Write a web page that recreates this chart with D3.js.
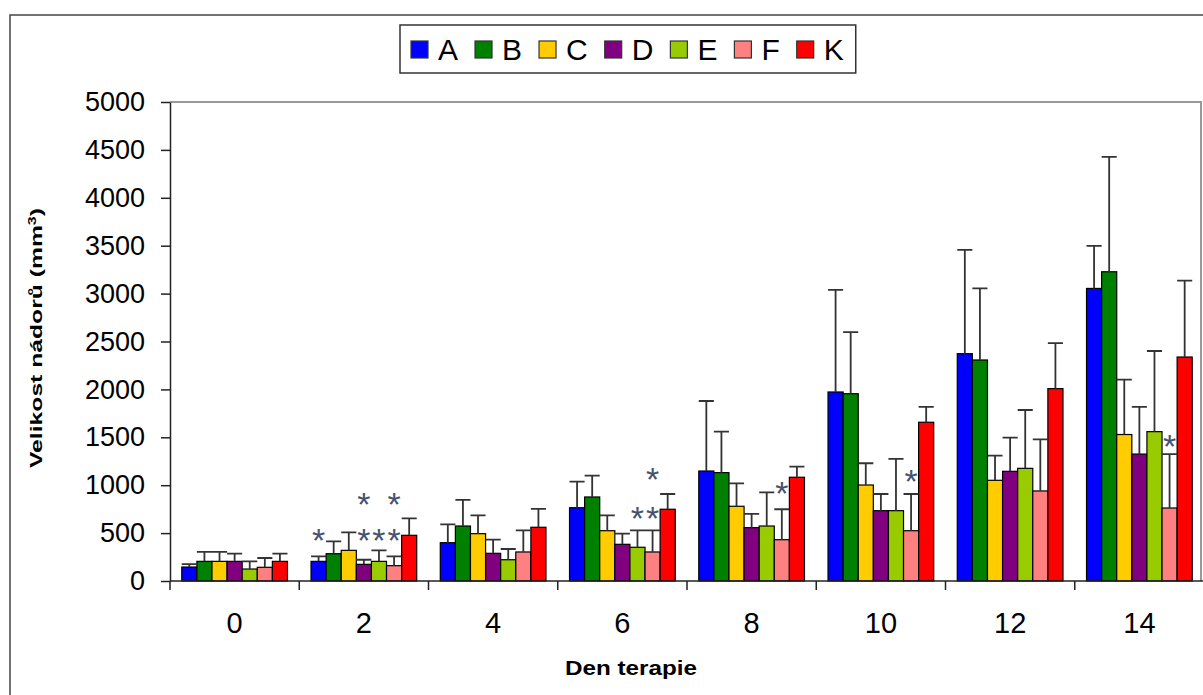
<!DOCTYPE html>
<html>
<head>
<meta charset="utf-8">
<script src="https://cdn.jsdelivr.net/npm/d3@7"></script>
<style>
  html, body { margin: 0; padding: 0; background: #fff; }
  svg { display: block; font-family: "Liberation Sans", Arial, sans-serif; }
</style>
</head>
<body>
<svg id="chart" width="1203" height="695"></svg>
<script>
// Therapy days (category axis) and treatment groups (series)
const days = ["0", "2", "4", "6", "8", "10", "12", "14"];
const groups = ["A", "B", "C", "D", "E", "F", "K"];
const groupColors = ["#0000FF", "#008000", "#FFCC00", "#800080", "#99CC00", "#FF8080", "#FF0000"];

// Mean tumour volume (mm3) per day, one array per group
const meanA = [146, 205, 400, 765, 1148, 1973, 2373, 3054];
const meanB = [205, 285, 574, 877, 1131, 1955, 2307, 3228];
const meanC = [205, 320, 494, 525, 780, 1002, 1051, 1529];
const meanD = [205, 174, 289, 383, 557, 734, 1145, 1325];
const meanE = [125, 205, 222, 352, 574, 734, 1176, 1559];
const meanF = [143, 160, 303, 303, 431, 525, 940, 762];
const meanK = [205, 477, 561, 749, 1083, 1657, 2008, 2338];

// Standard deviations (upper error bars)
const sdA = [31, 53, 192, 272, 731, 1065, 1083, 445];
const sdB = [98, 129, 272, 222, 428, 642, 747, 1199];
const sdC = [98, 188, 192, 161, 240, 227, 257, 574];
const sdD = [80, 48, 142, 111, 143, 174, 351, 492];
const sdE = [80, 115, 112, 177, 352, 540, 609, 842];
const sdF = [97, 98, 226, 226, 318, 383, 539, 563];
const sdK = [80, 177, 191, 159, 110, 160, 476, 797];

// Significance markers: day, group, and the height (mm3) where the mark sits
const starDay   = ["2", "2", "2", "2", "2", "2", "6", "6", "6", "8", "10", "14"];
const starGroup = ["A", "D", "E", "F", "D", "F", "E", "F", "F", "F", "F", "F"];
const starLevel = [490, 490, 490, 490, 866, 866, 720, 720, 1127, 978, 1103, 1472];

const yTicks = [0, 500, 1000, 1500, 2000, 2500, 3000, 3500, 4000, 4500, 5000];

const meanSets = [meanA, meanB, meanC, meanD, meanE, meanF, meanK];
const sdSets = [sdA, sdB, sdC, sdD, sdE, sdF, sdK];
const rows = days.map((day, i) => ({
  day,
  values: groups.map((g, j) => ({ group: g, mean: meanSets[j][i], sd: sdSets[j][i], color: groupColors[j] }))
}));

const svg = d3.select("#chart");
const plotLeft = 170, plotRight = 1204, plotTop = 102, plotBottom = 581;

const x0 = d3.scaleBand().domain(days).range([plotLeft, plotRight]).padding(0);
const x1 = d3.scaleBand().domain(groups).range([0, x0.bandwidth()]).paddingInner(0).paddingOuter(0.78);
const y = d3.scaleLinear().domain([0, 5000]).range([plotBottom, plotTop]);

// Outer chart frame
svg.append("rect")
  .attr("x", 10).attr("y", 15).attr("width", 1300).attr("height", 800)
  .attr("fill", "none").attr("stroke", "#444").attr("stroke-width", 1.5);

// Plot area frame (top and right)
svg.append("path")
  .attr("d", `M${plotLeft},${plotTop}H1201V${plotBottom}`)
  .attr("fill", "none").attr("stroke", "#999").attr("stroke-width", 2);

// Bars
const dayG = svg.append("g").selectAll("g").data(rows).join("g")
  .attr("transform", d => `translate(${x0(d.day)},0)`);

dayG.selectAll("rect").data(d => d.values).join("rect")
  .attr("x", d => x1(d.group))
  .attr("y", d => y(d.mean))
  .attr("width", x1.bandwidth())
  .attr("height", d => y(0) - y(d.mean))
  .attr("fill", d => d.color)
  .attr("stroke", "#000").attr("stroke-width", 1.2);

// Upper error bars
const capHalf = x1.bandwidth() / 2;
dayG.selectAll("path.err").data(d => d.values).join("path")
  .attr("class", "err")
  .attr("d", d => {
    const cx = x1(d.group) + x1.bandwidth() / 2;
    const yt = y(d.mean + d.sd), yb = y(d.mean);
    return `M${cx},${yb}V${yt}M${cx - capHalf},${yt}H${cx + capHalf}`;
  })
  .attr("fill", "none").attr("stroke", "#333").attr("stroke-width", 1.8);

// Y axis
const yAxis = svg.append("g")
  .attr("transform", `translate(${plotLeft},0)`)
  .call(d3.axisLeft(y).tickValues(yTicks).tickFormat(d3.format("d"))
    .tickSize(9).tickPadding(16).tickSizeOuter(0));
yAxis.select(".domain").attr("stroke", "#222").attr("stroke-width", 1.5);
yAxis.selectAll(".tick line").attr("stroke", "#222").attr("stroke-width", 1.5);
yAxis.selectAll(".tick text")
  .attr("font-size", 27).attr("fill", "#000")
  .attr("font-family", "'Liberation Sans', Arial, sans-serif");

// X axis: labels at category centres, ticks at category boundaries
const xAxis = svg.append("g")
  .attr("transform", `translate(0,${plotBottom})`)
  .call(d3.axisBottom(x0).tickSize(0).tickSizeOuter(0));
xAxis.select(".domain").attr("d", `M${plotLeft},0H1203`).attr("stroke", "#222").attr("stroke-width", 1.5);
xAxis.selectAll(".tick text")
  .attr("y", 52).attr("dy", null)
  .attr("font-size", 29).attr("fill", "#000")
  .attr("font-family", "'Liberation Sans', Arial, sans-serif");
xAxis.selectAll("line.bound")
  .data(days.map(d => x0(d)))
  .join("line").attr("class", "bound")
  .attr("x1", d => d).attr("x2", d => d)
  .attr("y1", 0).attr("y2", 9)
  .attr("stroke", "#222").attr("stroke-width", 1.5);

// Significance asterisks
svg.append("g").selectAll("text").data(starDay.map((d, i) => ({ day: d, group: starGroup[i], level: starLevel[i] })))
  .join("text")
  .attr("x", d => x0(d.day) + x1(d.group) + x1.bandwidth() / 2)
  .attr("y", d => y(d.level) + 18)
  .attr("text-anchor", "middle")
  .attr("font-size", 34)
  .attr("fill", "#465370")
  .text("*");

// Axis titles
svg.append("text")
  .attr("x", 631).attr("y", 675)
  .attr("text-anchor", "middle")
  .attr("font-size", 20).attr("font-weight", "bold")
  .attr("textLength", 132).attr("lengthAdjust", "spacingAndGlyphs")
  .text("Den terapie");

const yTitle = svg.append("text")
  .attr("transform", "translate(42,338) rotate(-90)")
  .attr("text-anchor", "middle")
  .attr("font-size", 17).attr("font-weight", "bold")
  .attr("textLength", 260).attr("lengthAdjust", "spacingAndGlyphs");
yTitle.append("tspan").text("Velikost nádorů (mm");
yTitle.append("tspan").attr("baseline-shift", "super").attr("font-size", 11).text("3");
yTitle.append("tspan").text(")");

// Legend
const legend = svg.append("g");
const legendBox = legend.append("rect")
  .attr("y", 25).attr("height", 48)
  .attr("fill", "#fff").attr("stroke", "#333").attr("stroke-width", 1.5);
let lx = 411;
groups.forEach((g, i) => {
  legend.append("rect")
    .attr("x", lx).attr("y", 41).attr("width", 17).attr("height", 17)
    .attr("fill", groupColors[i]).attr("stroke", "#333").attr("stroke-width", 1.2);
  const t = legend.append("text")
    .attr("x", lx + 27).attr("y", 60)
    .attr("font-size", 30).attr("fill", "#000")
    .text(g);
  const w = t.node().getComputedTextLength();
  lx = lx + 27 + w + 17;
});
legendBox.attr("x", 400).attr("width", lx - 17 + 12 - 400);
</script>
</body>
</html>
